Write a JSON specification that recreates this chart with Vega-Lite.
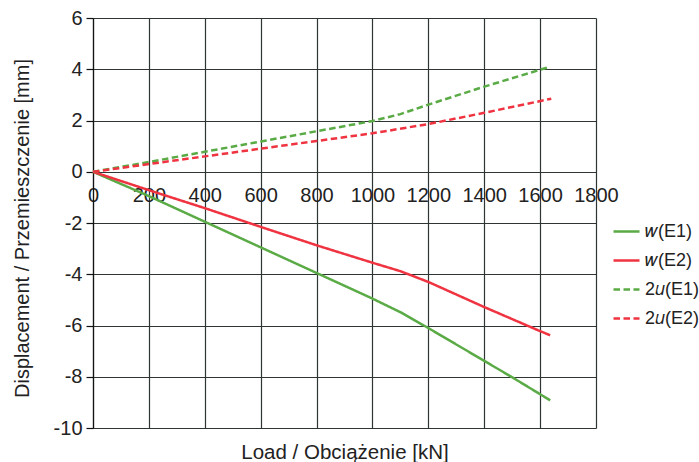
{
  "$schema": "https://vega.github.io/schema/vega-lite/v6.json",
  "width": 503,
  "height": 410,
  "autosize": {"type": "none"},
  "padding": {"left": 93, "top": 18, "right": 103, "bottom": 34},
  "background": "white",
  "config": {
    "view": {"stroke": null},
    "font": "Liberation Sans",
    "axis": {"labelFont": "Liberation Sans", "titleFont": "Liberation Sans", "labelColor": "#222", "titleColor": "#222", "titleFontWeight": "normal"}
  },
  "data": {
    "values": [
      {"load": 0, "disp": 0, "series": "𝑤(E1)"},
      {"load": 200, "disp": -0.95, "series": "𝑤(E1)"},
      {"load": 400, "disp": -1.95, "series": "𝑤(E1)"},
      {"load": 600, "disp": -2.95, "series": "𝑤(E1)"},
      {"load": 800, "disp": -3.95, "series": "𝑤(E1)"},
      {"load": 1000, "disp": -4.95, "series": "𝑤(E1)"},
      {"load": 1100, "disp": -5.48, "series": "𝑤(E1)"},
      {"load": 1200, "disp": -6.1, "series": "𝑤(E1)"},
      {"load": 1400, "disp": -7.38, "series": "𝑤(E1)"},
      {"load": 1500, "disp": -8.02, "series": "𝑤(E1)"},
      {"load": 1636, "disp": -8.92, "series": "𝑤(E1)"},
      {"load": 0, "disp": 0, "series": "𝑤(E2)"},
      {"load": 200, "disp": -0.72, "series": "𝑤(E2)"},
      {"load": 400, "disp": -1.42, "series": "𝑤(E2)"},
      {"load": 600, "disp": -2.15, "series": "𝑤(E2)"},
      {"load": 800, "disp": -2.87, "series": "𝑤(E2)"},
      {"load": 1000, "disp": -3.55, "series": "𝑤(E2)"},
      {"load": 1100, "disp": -3.88, "series": "𝑤(E2)"},
      {"load": 1200, "disp": -4.3, "series": "𝑤(E2)"},
      {"load": 1400, "disp": -5.28, "series": "𝑤(E2)"},
      {"load": 1600, "disp": -6.22, "series": "𝑤(E2)"},
      {"load": 1636, "disp": -6.38, "series": "𝑤(E2)"},
      {"load": 0, "disp": 0, "series": "2𝑢(E1)"},
      {"load": 200, "disp": 0.38, "series": "2𝑢(E1)"},
      {"load": 400, "disp": 0.78, "series": "2𝑢(E1)"},
      {"load": 600, "disp": 1.18, "series": "2𝑢(E1)"},
      {"load": 800, "disp": 1.58, "series": "2𝑢(E1)"},
      {"load": 1000, "disp": 1.98, "series": "2𝑢(E1)"},
      {"load": 1100, "disp": 2.25, "series": "2𝑢(E1)"},
      {"load": 1200, "disp": 2.62, "series": "2𝑢(E1)"},
      {"load": 1400, "disp": 3.32, "series": "2𝑢(E1)"},
      {"load": 1630, "disp": 4.08, "series": "2𝑢(E1)"},
      {"load": 0, "disp": 0, "series": "2𝑢(E2)"},
      {"load": 200, "disp": 0.3, "series": "2𝑢(E2)"},
      {"load": 400, "disp": 0.6, "series": "2𝑢(E2)"},
      {"load": 600, "disp": 0.9, "series": "2𝑢(E2)"},
      {"load": 800, "disp": 1.2, "series": "2𝑢(E2)"},
      {"load": 1000, "disp": 1.5, "series": "2𝑢(E2)"},
      {"load": 1200, "disp": 1.86, "series": "2𝑢(E2)"},
      {"load": 1400, "disp": 2.3, "series": "2𝑢(E2)"},
      {"load": 1640, "disp": 2.85, "series": "2𝑢(E2)"}
    ]
  },
  "mark": {"type": "line", "strokeWidth": 2.5, "clip": false},
  "encoding": {
    "x": {
      "field": "load", "type": "quantitative",
      "scale": {"domain": [0, 1800], "nice": false},
      "axis": {
        "values": [0, 200, 400, 600, 800, 1000, 1200, 1400, 1600, 1800],
        "format": "d",
        "offset": -256.25,
        "domain": false, "ticks": false,
        "grid": true, "gridColor": "#2f3535", "gridWidth": 1.2, "gridOpacity": 1,
        "labelFontSize": 20, "labelPadding": 14, "labelFlush": false, "labelOverlap": false,
        "title": "Load / Obciążenie [kN]", "titleFontSize": 20.5,
        "titleY": 287, "titleBaseline": "alphabetic"
      }
    },
    "y": {
      "field": "disp", "type": "quantitative",
      "scale": {"domain": [-10, 6], "nice": false, "zero": false},
      "axis": {
        "values": [-10, -8, -6, -4, -2, 0, 2, 4, 6],
        "labelExpr": "datum.value < 0 ? '-' + abs(datum.value) : '' + datum.value",
        "domain": true, "domainColor": "#111", "domainWidth": 1.2,
        "ticks": true, "tickColor": "#111", "tickSize": 7, "tickWidth": 1.2,
        "grid": true, "gridColor": "#2f3535", "gridWidth": 1.2, "gridOpacity": 1,
        "labelFontSize": 20, "labelPadding": 4, "labelFlush": false, "labelOverlap": false,
        "title": "Displacement / Przemieszczenie [mm]", "titleFontSize": 20,
        "titleX": -71, "titleY": 210, "titleBaseline": "middle", "titleAngle": -90
      }
    },
    "color": {
      "field": "series", "type": "nominal",
      "scale": {"domain": ["𝑤(E1)", "𝑤(E2)", "2𝑢(E1)", "2𝑢(E2)"], "range": ["#5aab46", "#ef3340", "#5aab46", "#ef3340"]},
      "legend": {
        "title": null, "orient": "none", "legendX": 519, "legendY": 199,
        "symbolType": "stroke", "symbolSize": 676, "symbolStrokeWidth": 2.5,
        "labelFontSize": 18, "labelColor": "#222", "labelFont": "Liberation Sans",
        "rowPadding": 5, "labelOffset": 4
      }
    },
    "strokeDash": {
      "field": "series", "type": "nominal",
      "scale": {"domain": ["𝑤(E1)", "𝑤(E2)", "2𝑢(E1)", "2𝑢(E2)"], "range": [[1, 0], [1, 0], [6.5, 3.5], [6.5, 3.5]]},
      "legend": {
        "title": null, "orient": "none", "legendX": 519, "legendY": 199,
        "symbolType": "stroke", "symbolSize": 676, "symbolStrokeWidth": 2.5,
        "labelFontSize": 18, "labelColor": "#222", "labelFont": "Liberation Sans",
        "rowPadding": 5, "labelOffset": 4
      }
    }
  }
}
